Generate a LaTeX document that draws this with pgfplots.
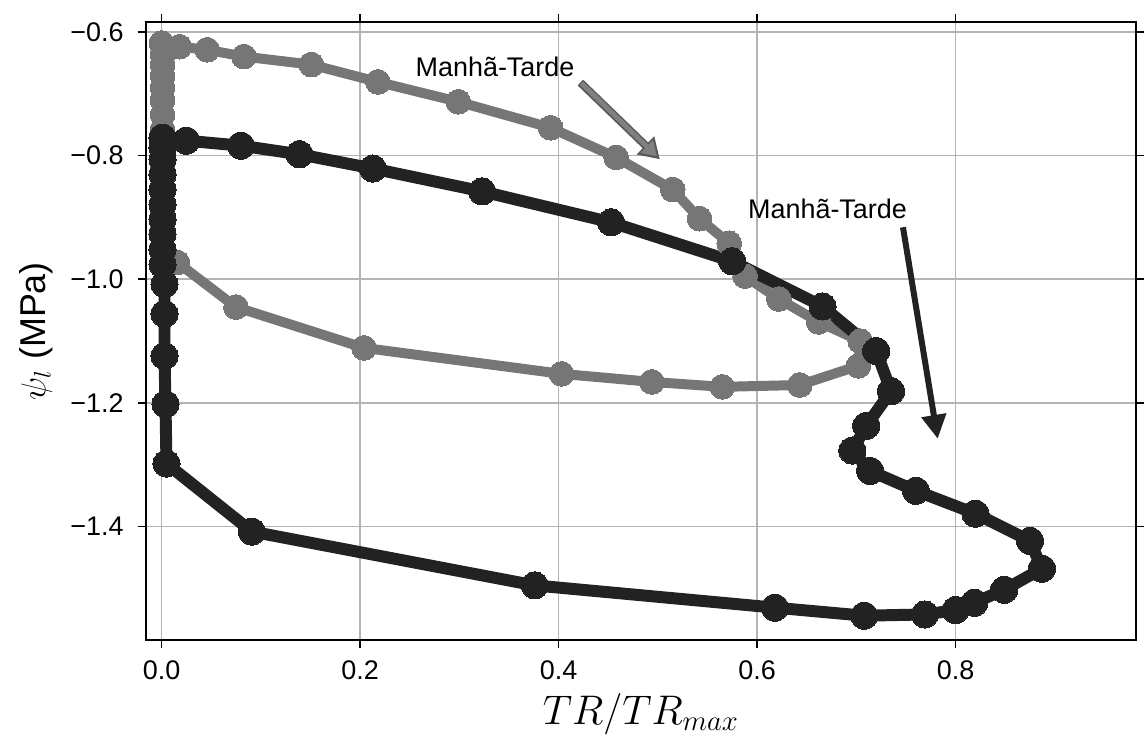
\documentclass[border=0pt]{standalone}
\usepackage{fontspec}
\setmainfont{Liberation Sans}
\usepackage{pgfplots}
\pgfplotsset{compat=1.18}
\usetikzlibrary{arrows.meta}

\definecolor{lightser}{HTML}{767676}
\definecolor{darkser}{HTML}{222222}
\definecolor{gridc}{HTML}{B4B4B4}

\begin{document}
\begin{tikzpicture}
\begin{axis}[
  width=496.5pt, height=310pt, scale only axis, clip=false,
  xmin=-0.016, xmax=0.982, ymin=-1.584, ymax=-0.584,
  xtick={0,0.2,0.4,0.6,0.8}, xticklabels={0.0,0.2,0.4,0.6,0.8},
  ytick={-1.4,-1.2,-1.0,-0.8,-0.6}, yticklabels={−1.4,−1.2,−1.0,−0.8,−0.6},
  tick align=outside, tick pos=both, major tick length=4pt,
  grid=major, grid style={gridc, line width=0.8pt},
  axis line style={line width=1pt},
  every tick/.style={black, line width=0.8pt},
  tick label style={font=\fontsize{13.5}{16}\selectfont},
  yticklabel style={xshift=-3.5pt},
  xticklabel style={yshift=-2.5pt},
  xlabel={$TR/TR_{max}$}, ylabel={$\psi_l$ (MPa)},
  xlabel style={font=\fontsize{19.5}{21}\selectfont},
  ylabel style={font=\fontsize{18}{20}\selectfont, yshift=2pt},
]
% series 1 (gray)
\addplot[lightser, line width=5pt, mark=*, mark size=6.2pt,
  mark options={fill=lightser, draw=lightser, line width=0pt}] coordinates {
  (0.001,-0.952) (0.001,-0.919) (0.001,-0.887) (0.001,-0.855) (0.001,-0.823)
  (0.001,-0.790) (0.001,-0.758) (0.001,-0.734) (0.001,-0.710) (0.001,-0.690)
  (0.001,-0.671) (0.001,-0.653) (0.001,-0.637)
  (0.000,-0.618) (0.018,-0.624) (0.046,-0.629) (0.083,-0.640) (0.151,-0.653)
  (0.218,-0.681) (0.299,-0.713) (0.392,-0.755) (0.458,-0.803) (0.515,-0.855)
  (0.542,-0.902) (0.572,-0.942) (0.588,-0.995) (0.622,-1.032) (0.662,-1.069)
  (0.704,-1.100) (0.702,-1.140) (0.643,-1.171) (0.565,-1.174) (0.494,-1.166)
  (0.403,-1.153) (0.204,-1.111) (0.075,-1.045) (0.016,-0.973)
};
% series 2 (black)
\addplot[darkser, line width=6pt, mark=*, mark size=6.8pt,
  mark options={fill=darkser, draw=darkser, line width=0pt}] coordinates {
  (0.001,-0.771) (0.025,-0.776) (0.080,-0.784) (0.139,-0.798) (0.213,-0.821)
  (0.323,-0.858) (0.453,-0.908) (0.575,-0.971) (0.666,-1.044) (0.720,-1.116)
  (0.735,-1.181) (0.710,-1.237) (0.696,-1.277) (0.714,-1.310) (0.760,-1.342)
  (0.820,-1.379) (0.875,-1.423) (0.887,-1.468) (0.849,-1.502) (0.819,-1.523)
  (0.800,-1.535) (0.769,-1.542) (0.708,-1.544) (0.618,-1.531) (0.376,-1.495)
  (0.091,-1.408) (0.005,-1.298) (0.004,-1.202) (0.003,-1.124) (0.003,-1.056)
  (0.003,-1.008) (0.001,-0.976) (0.001,-0.952) (0.001,-0.927) (0.001,-0.903)
  (0.001,-0.879) (0.001,-0.855) (0.001,-0.831) (0.001,-0.806) (0.001,-0.787)
  (0.001,-0.771)
};
% annotations
\node[font=\fontsize{13.5}{15}\selectfont] at (axis cs:0.336,-0.656) {Manhã-Tarde};
\draw[-{Triangle[width=12pt,length=10pt]}, line width=4pt, color=black!65]
  (axis cs:0.422,-0.682) -- (axis cs:0.502,-0.806);
\draw[-{Triangle[width=8.5pt,length=7pt]}, line width=2.4pt, color=gray]
  (axis cs:0.423,-0.683) -- (axis cs:0.499,-0.801);
\node[font=\fontsize{13.5}{15}\selectfont] at (axis cs:0.671,-0.887) {Manhã-Tarde};
\draw[-{Triangle[width=12pt,length=12pt]}, line width=3pt, color=darkser]
  (axis cs:0.747,-0.916) -- (axis cs:0.782,-1.258);
% white space above and left of the frame
\path (axis cs:0.4,-0.584) ++(0pt,11pt);
\path (rel axis cs:0,0.5) ++(-73pt,0pt);
\end{axis}
\end{tikzpicture}
\end{document}
